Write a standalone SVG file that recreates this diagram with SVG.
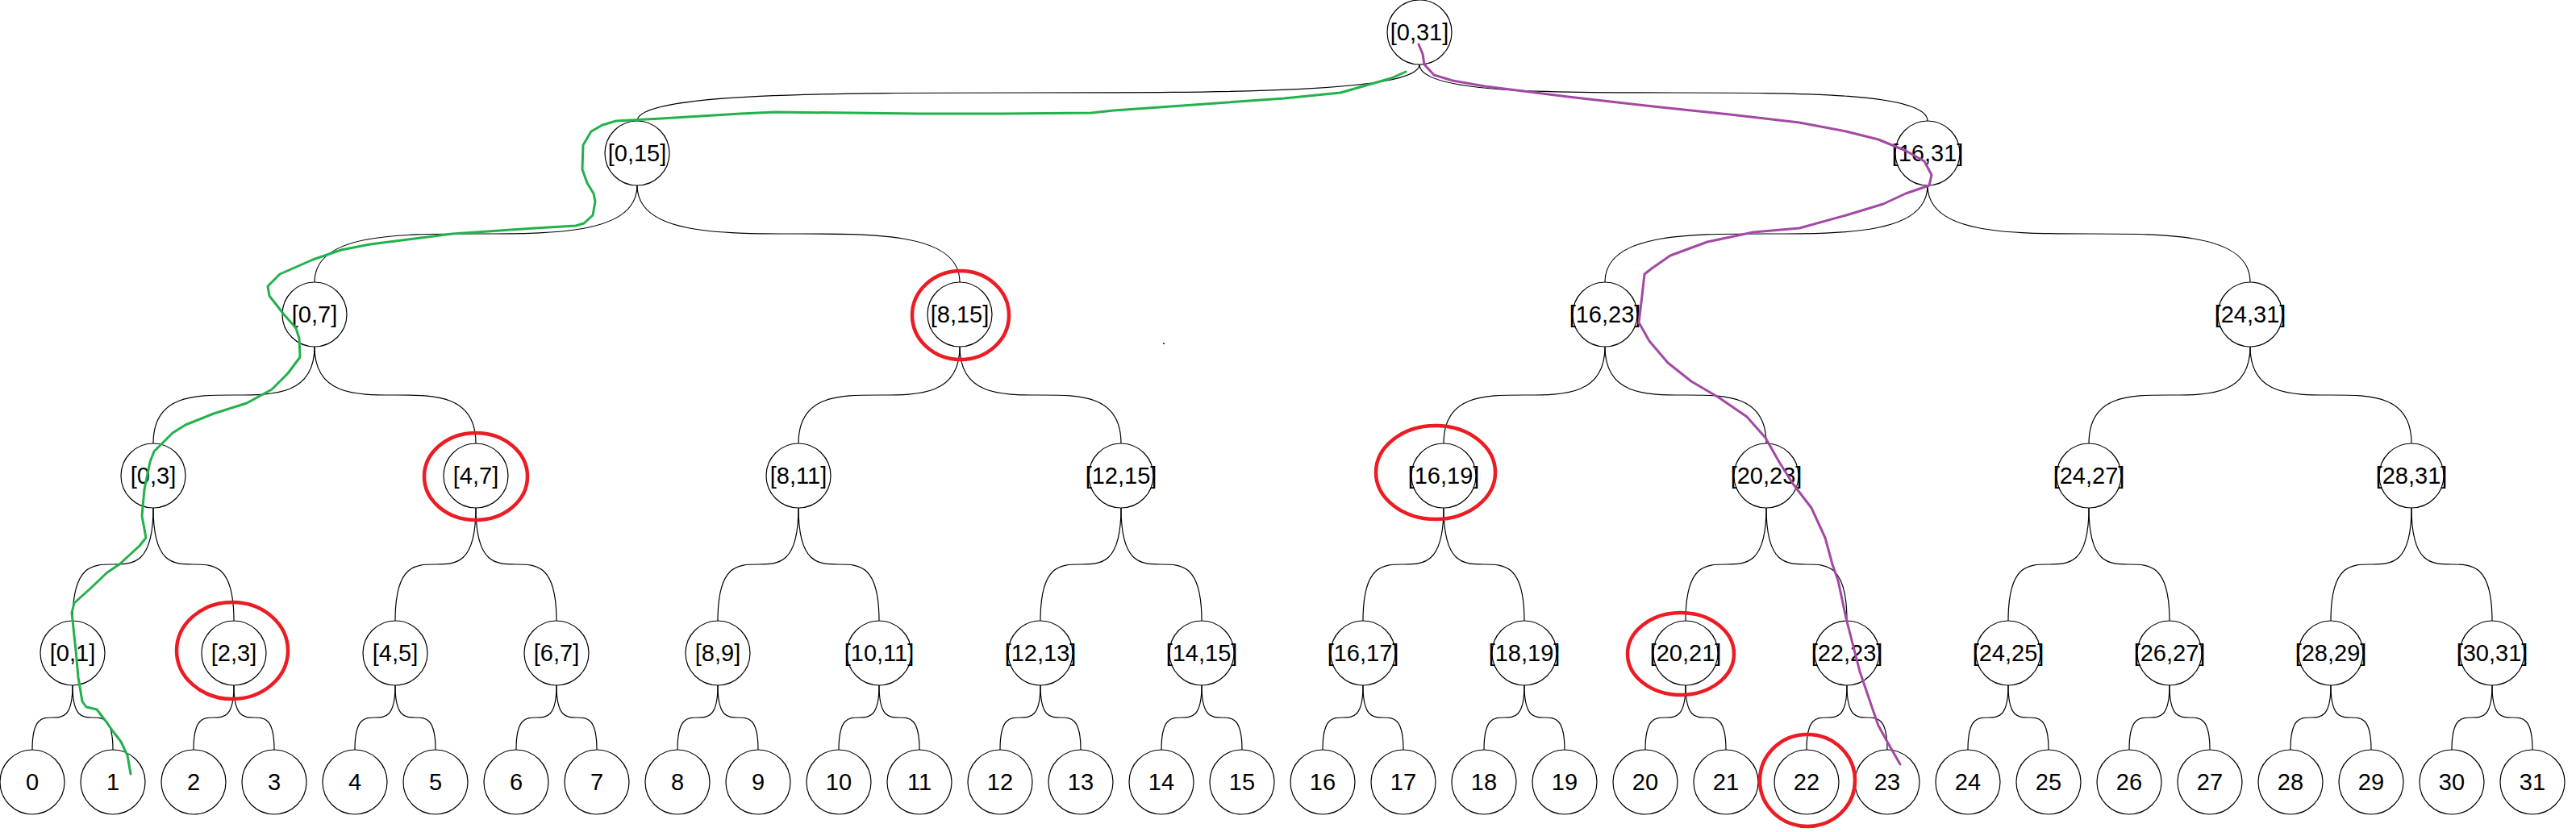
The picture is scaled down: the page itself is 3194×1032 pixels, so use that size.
<svg xmlns="http://www.w3.org/2000/svg" width="3194" height="1032" viewBox="0 0 3194 1032">
<style>
.e{fill:none;stroke:#000;stroke-width:1.2}
.n circle{fill:#fff;stroke:#000;stroke-width:1.2}
.n text{font-family:"Liberation Sans",Arial,sans-serif;font-size:29px;text-anchor:middle;fill:#000}
.hl{fill:none;stroke:#ed1c24;stroke-width:4.5}
.g{fill:none;stroke:#22b14c;stroke-width:3;stroke-linejoin:round;stroke-linecap:round}
.p{fill:none;stroke:#a349a4;stroke-width:3;stroke-linejoin:round;stroke-linecap:round}
</style>
<rect width="3194" height="1032" fill="#fff"/>
<g id="connectors">
<path class="e" d="M1760,80 C1760,150 790,80 790,150"/>
<path class="e" d="M1760,80 C1760,150 2390,80 2390,150"/>
<path class="e" d="M790,230 C790,350 390,230 390,350"/>
<path class="e" d="M790,230 C790,350 1190,230 1190,350"/>
<path class="e" d="M2390,230 C2390,350 1990,230 1990,350"/>
<path class="e" d="M2390,230 C2390,350 2790,230 2790,350"/>
<path class="e" d="M390,430 C390,550 190,430 190,550"/>
<path class="e" d="M390,430 C390,550 590,430 590,550"/>
<path class="e" d="M1190,430 C1190,550 990,430 990,550"/>
<path class="e" d="M1190,430 C1190,550 1390,430 1390,550"/>
<path class="e" d="M1990,430 C1990,550 1790,430 1790,550"/>
<path class="e" d="M1990,430 C1990,550 2190,430 2190,550"/>
<path class="e" d="M2790,430 C2790,550 2590,430 2590,550"/>
<path class="e" d="M2790,430 C2790,550 2990,430 2990,550"/>
<path class="e" d="M190,630 C190,770 90,630 90,770"/>
<path class="e" d="M190,630 C190,770 290,630 290,770"/>
<path class="e" d="M590,630 C590,770 490,630 490,770"/>
<path class="e" d="M590,630 C590,770 690,630 690,770"/>
<path class="e" d="M990,630 C990,770 890,630 890,770"/>
<path class="e" d="M990,630 C990,770 1090,630 1090,770"/>
<path class="e" d="M1390,630 C1390,770 1290,630 1290,770"/>
<path class="e" d="M1390,630 C1390,770 1490,630 1490,770"/>
<path class="e" d="M1790,630 C1790,770 1690,630 1690,770"/>
<path class="e" d="M1790,630 C1790,770 1890,630 1890,770"/>
<path class="e" d="M2190,630 C2190,770 2090,630 2090,770"/>
<path class="e" d="M2190,630 C2190,770 2290,630 2290,770"/>
<path class="e" d="M2590,630 C2590,770 2490,630 2490,770"/>
<path class="e" d="M2590,630 C2590,770 2690,630 2690,770"/>
<path class="e" d="M2990,630 C2990,770 2890,630 2890,770"/>
<path class="e" d="M2990,630 C2990,770 3090,630 3090,770"/>
<path class="e" d="M90,850 C90,930 40,850 40,930"/>
<path class="e" d="M90,850 C90,930 140,850 140,930"/>
<path class="e" d="M290,850 C290,930 240,850 240,930"/>
<path class="e" d="M290,850 C290,930 340,850 340,930"/>
<path class="e" d="M490,850 C490,930 440,850 440,930"/>
<path class="e" d="M490,850 C490,930 540,850 540,930"/>
<path class="e" d="M690,850 C690,930 640,850 640,930"/>
<path class="e" d="M690,850 C690,930 740,850 740,930"/>
<path class="e" d="M890,850 C890,930 840,850 840,930"/>
<path class="e" d="M890,850 C890,930 940,850 940,930"/>
<path class="e" d="M1090,850 C1090,930 1040,850 1040,930"/>
<path class="e" d="M1090,850 C1090,930 1140,850 1140,930"/>
<path class="e" d="M1290,850 C1290,930 1240,850 1240,930"/>
<path class="e" d="M1290,850 C1290,930 1340,850 1340,930"/>
<path class="e" d="M1490,850 C1490,930 1440,850 1440,930"/>
<path class="e" d="M1490,850 C1490,930 1540,850 1540,930"/>
<path class="e" d="M1690,850 C1690,930 1640,850 1640,930"/>
<path class="e" d="M1690,850 C1690,930 1740,850 1740,930"/>
<path class="e" d="M1890,850 C1890,930 1840,850 1840,930"/>
<path class="e" d="M1890,850 C1890,930 1940,850 1940,930"/>
<path class="e" d="M2090,850 C2090,930 2040,850 2040,930"/>
<path class="e" d="M2090,850 C2090,930 2140,850 2140,930"/>
<path class="e" d="M2290,850 C2290,930 2240,850 2240,930"/>
<path class="e" d="M2290,850 C2290,930 2340,850 2340,930"/>
<path class="e" d="M2490,850 C2490,930 2440,850 2440,930"/>
<path class="e" d="M2490,850 C2490,930 2540,850 2540,930"/>
<path class="e" d="M2690,850 C2690,930 2640,850 2640,930"/>
<path class="e" d="M2690,850 C2690,930 2740,850 2740,930"/>
<path class="e" d="M2890,850 C2890,930 2840,850 2840,930"/>
<path class="e" d="M2890,850 C2890,930 2940,850 2940,930"/>
<path class="e" d="M3090,850 C3090,930 3040,850 3040,930"/>
<path class="e" d="M3090,850 C3090,930 3140,850 3140,930"/>
</g>
<g id="nodes">
<g class="n" id="n_0_31"><circle cx="1760" cy="40" r="40"/><text x="1760" y="50">[0,31]</text></g>
<g class="n" id="n_0_15"><circle cx="790" cy="190" r="40"/><text x="790" y="200">[0,15]</text></g>
<g class="n" id="n_16_31"><circle cx="2390" cy="190" r="40"/><text x="2390" y="200">[16,31]</text></g>
<g class="n" id="n_0_7"><circle cx="390" cy="390" r="40"/><text x="390" y="400">[0,7]</text></g>
<g class="n" id="n_8_15"><circle cx="1190" cy="390" r="40"/><text x="1190" y="400">[8,15]</text></g>
<g class="n" id="n_16_23"><circle cx="1990" cy="390" r="40"/><text x="1990" y="400">[16,23]</text></g>
<g class="n" id="n_24_31"><circle cx="2790" cy="390" r="40"/><text x="2790" y="400">[24,31]</text></g>
<g class="n" id="n_0_3"><circle cx="190" cy="590" r="40"/><text x="190" y="600">[0,3]</text></g>
<g class="n" id="n_4_7"><circle cx="590" cy="590" r="40"/><text x="590" y="600">[4,7]</text></g>
<g class="n" id="n_8_11"><circle cx="990" cy="590" r="40"/><text x="990" y="600">[8,11]</text></g>
<g class="n" id="n_12_15"><circle cx="1390" cy="590" r="40"/><text x="1390" y="600">[12,15]</text></g>
<g class="n" id="n_16_19"><circle cx="1790" cy="590" r="40"/><text x="1790" y="600">[16,19]</text></g>
<g class="n" id="n_20_23"><circle cx="2190" cy="590" r="40"/><text x="2190" y="600">[20,23]</text></g>
<g class="n" id="n_24_27"><circle cx="2590" cy="590" r="40"/><text x="2590" y="600">[24,27]</text></g>
<g class="n" id="n_28_31"><circle cx="2990" cy="590" r="40"/><text x="2990" y="600">[28,31]</text></g>
<g class="n" id="n_0_1"><circle cx="90" cy="810" r="40"/><text x="90" y="820">[0,1]</text></g>
<g class="n" id="n_2_3"><circle cx="290" cy="810" r="40"/><text x="290" y="820">[2,3]</text></g>
<g class="n" id="n_4_5"><circle cx="490" cy="810" r="40"/><text x="490" y="820">[4,5]</text></g>
<g class="n" id="n_6_7"><circle cx="690" cy="810" r="40"/><text x="690" y="820">[6,7]</text></g>
<g class="n" id="n_8_9"><circle cx="890" cy="810" r="40"/><text x="890" y="820">[8,9]</text></g>
<g class="n" id="n_10_11"><circle cx="1090" cy="810" r="40"/><text x="1090" y="820">[10,11]</text></g>
<g class="n" id="n_12_13"><circle cx="1290" cy="810" r="40"/><text x="1290" y="820">[12,13]</text></g>
<g class="n" id="n_14_15"><circle cx="1490" cy="810" r="40"/><text x="1490" y="820">[14,15]</text></g>
<g class="n" id="n_16_17"><circle cx="1690" cy="810" r="40"/><text x="1690" y="820">[16,17]</text></g>
<g class="n" id="n_18_19"><circle cx="1890" cy="810" r="40"/><text x="1890" y="820">[18,19]</text></g>
<g class="n" id="n_20_21"><circle cx="2090" cy="810" r="40"/><text x="2090" y="820">[20,21]</text></g>
<g class="n" id="n_22_23"><circle cx="2290" cy="810" r="40"/><text x="2290" y="820">[22,23]</text></g>
<g class="n" id="n_24_25"><circle cx="2490" cy="810" r="40"/><text x="2490" y="820">[24,25]</text></g>
<g class="n" id="n_26_27"><circle cx="2690" cy="810" r="40"/><text x="2690" y="820">[26,27]</text></g>
<g class="n" id="n_28_29"><circle cx="2890" cy="810" r="40"/><text x="2890" y="820">[28,29]</text></g>
<g class="n" id="n_30_31"><circle cx="3090" cy="810" r="40"/><text x="3090" y="820">[30,31]</text></g>
<g class="n" id="leaf_0"><circle cx="40" cy="970" r="40"/><text x="40" y="980">0</text></g>
<g class="n" id="leaf_1"><circle cx="140" cy="970" r="40"/><text x="140" y="980">1</text></g>
<g class="n" id="leaf_2"><circle cx="240" cy="970" r="40"/><text x="240" y="980">2</text></g>
<g class="n" id="leaf_3"><circle cx="340" cy="970" r="40"/><text x="340" y="980">3</text></g>
<g class="n" id="leaf_4"><circle cx="440" cy="970" r="40"/><text x="440" y="980">4</text></g>
<g class="n" id="leaf_5"><circle cx="540" cy="970" r="40"/><text x="540" y="980">5</text></g>
<g class="n" id="leaf_6"><circle cx="640" cy="970" r="40"/><text x="640" y="980">6</text></g>
<g class="n" id="leaf_7"><circle cx="740" cy="970" r="40"/><text x="740" y="980">7</text></g>
<g class="n" id="leaf_8"><circle cx="840" cy="970" r="40"/><text x="840" y="980">8</text></g>
<g class="n" id="leaf_9"><circle cx="940" cy="970" r="40"/><text x="940" y="980">9</text></g>
<g class="n" id="leaf_10"><circle cx="1040" cy="970" r="40"/><text x="1040" y="980">10</text></g>
<g class="n" id="leaf_11"><circle cx="1140" cy="970" r="40"/><text x="1140" y="980">11</text></g>
<g class="n" id="leaf_12"><circle cx="1240" cy="970" r="40"/><text x="1240" y="980">12</text></g>
<g class="n" id="leaf_13"><circle cx="1340" cy="970" r="40"/><text x="1340" y="980">13</text></g>
<g class="n" id="leaf_14"><circle cx="1440" cy="970" r="40"/><text x="1440" y="980">14</text></g>
<g class="n" id="leaf_15"><circle cx="1540" cy="970" r="40"/><text x="1540" y="980">15</text></g>
<g class="n" id="leaf_16"><circle cx="1640" cy="970" r="40"/><text x="1640" y="980">16</text></g>
<g class="n" id="leaf_17"><circle cx="1740" cy="970" r="40"/><text x="1740" y="980">17</text></g>
<g class="n" id="leaf_18"><circle cx="1840" cy="970" r="40"/><text x="1840" y="980">18</text></g>
<g class="n" id="leaf_19"><circle cx="1940" cy="970" r="40"/><text x="1940" y="980">19</text></g>
<g class="n" id="leaf_20"><circle cx="2040" cy="970" r="40"/><text x="2040" y="980">20</text></g>
<g class="n" id="leaf_21"><circle cx="2140" cy="970" r="40"/><text x="2140" y="980">21</text></g>
<g class="n" id="leaf_22"><circle cx="2240" cy="970" r="40"/><text x="2240" y="980">22</text></g>
<g class="n" id="leaf_23"><circle cx="2340" cy="970" r="40"/><text x="2340" y="980">23</text></g>
<g class="n" id="leaf_24"><circle cx="2440" cy="970" r="40"/><text x="2440" y="980">24</text></g>
<g class="n" id="leaf_25"><circle cx="2540" cy="970" r="40"/><text x="2540" y="980">25</text></g>
<g class="n" id="leaf_26"><circle cx="2640" cy="970" r="40"/><text x="2640" y="980">26</text></g>
<g class="n" id="leaf_27"><circle cx="2740" cy="970" r="40"/><text x="2740" y="980">27</text></g>
<g class="n" id="leaf_28"><circle cx="2840" cy="970" r="40"/><text x="2840" y="980">28</text></g>
<g class="n" id="leaf_29"><circle cx="2940" cy="970" r="40"/><text x="2940" y="980">29</text></g>
<g class="n" id="leaf_30"><circle cx="3040" cy="970" r="40"/><text x="3040" y="980">30</text></g>
<g class="n" id="leaf_31"><circle cx="3140" cy="970" r="40"/><text x="3140" y="980">31</text></g>
</g>
<g id="highlights">
<ellipse class="hl" cx="1191" cy="391" rx="60" ry="55"/>
<ellipse class="hl" cx="590" cy="591" rx="64" ry="54"/>
<ellipse class="hl" cx="1780" cy="586" rx="74" ry="58"/>
<ellipse class="hl" cx="288" cy="807" rx="69" ry="60"/>
<ellipse class="hl" cx="2084" cy="811" rx="66" ry="51"/>
<ellipse class="hl" cx="2241" cy="968" rx="59" ry="57"/>
</g>
<g id="paths">
<polyline class="g" points="1743,89 1725,97 1690,107 1662,115 1592,122 1522,127 1452,132 1381,137 1353,140 1241,141 1139,141 961,139 918,141 820,147 764,150 747,155 733,163 723,180 722,210 728,227 736,240 738,250 735,267 724,277 714,280 663,283 561,290 459,303 423,310 388,322 347,340 332,355 334,367 352,390 367,407 371,420 372,443 357,463 337,483 306,500 265,513 230,527 214,537 204,547 191,560 186,573 179,607 176,640 181,667 173,677 148,700 133,710 112,730 92,748 89,760 94,807 97,840 102,870 107,877 120,880 130,893 140,907 150,920 158,937 162,960"/>
<polyline class="p" points="1759,55 1764,67 1766,80 1778,93 1801,100 1841,107 1944,120 2059,133 2145,142 2231,152 2289,163 2329,173 2363,187 2386,200 2395,217 2392,230 2363,240 2335,253 2289,267 2231,283 2174,288 2117,300 2071,317 2048,333 2039,340 2036,367 2032,400 2045,423 2068,450 2097,473 2131,493 2166,517 2189,543 2206,573 2223,600 2246,630 2263,667 2272,700 2279,720 2289,767 2306,833 2321,877 2329,900 2340,920 2356,948"/>
</g>
<rect x="1442" y="425" width="2" height="2" fill="#444"/>
</svg>
